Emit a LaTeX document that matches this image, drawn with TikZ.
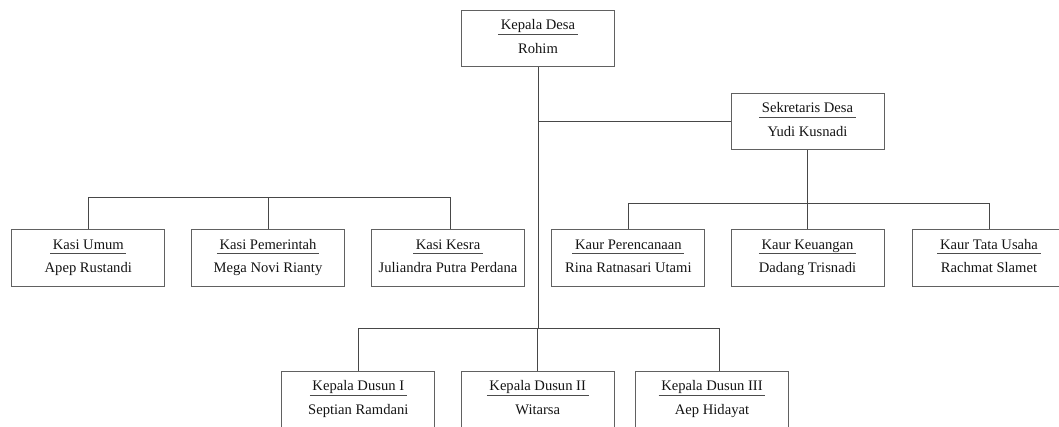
\documentclass[tikz,border=0pt]{standalone}
\usepackage{fontspec}
\setmainfont{Liberation Serif}
\usetikzlibrary{calc}
\tikzset{
  orgbox/.style={draw=black!62, line width=0.9pt, rectangle, minimum width=153pt, minimum height=56.5pt, inner sep=0pt},
  ttl/.style={anchor=base, inner xsep=2.5pt, inner ysep=0pt, font=\fontsize{14.6}{17}\selectfont, text=black!92},
  per/.style={anchor=base, inner sep=0pt, font=\fontsize{14.6}{17}\selectfont, text=black!92},
  uline/.style={draw=black!70, line width=0.9pt},
  conn/.style={draw=black!72, line width=0.9pt}
}
\newcommand{\orgunit}[5]{%
  \node[orgbox] (#1) at (#2,#3) {};
  \node[ttl] (#1-t) at ($(#1.north)+(0,-19.8pt)$) {#4};
  \draw[uline] ([yshift=-4.5pt]#1-t.base west) -- ([yshift=-4.5pt]#1-t.base east);
  \node[per] (#1-p) at ($(#1.north)+(0,-43.5pt)$) {#5};
}
\begin{document}
\begin{tikzpicture}[x=1pt,y=-1pt]
\useasboundingbox (0,0) rectangle (1059,426);
% boxes
\orgunit{kd}{538}{38.5}{Kepala Desa}{Rohim}
\orgunit{sd}{807.5}{121.5}{Sekretaris Desa}{Yudi Kusnadi}
\orgunit{ku}{88.3}{258}{Kasi Umum}{Apep Rustandi}
\orgunit{kp}{268}{258}{Kasi Pemerintah}{Mega Novi Rianty}
\orgunit{kk}{448}{258}{Kasi Kesra}{Juliandra Putra Perdana}
\orgunit{kr}{628.3}{258}{Kaur Perencanaan}{Rina Ratnasari Utami}
\orgunit{kg}{807.5}{258}{Kaur Keuangan}{Dadang Trisnadi}
\orgunit{kt}{989}{258}{Kaur Tata Usaha}{Rachmat Slamet}
\orgunit{d1}{358.3}{399.5}{Kepala Dusun I}{Septian Ramdani}
\orgunit{d2}{537.7}{399.5}{Kepala Dusun II}{Witarsa}
\orgunit{d3}{712}{399.5}{Kepala Dusun III}{Aep Hidayat}
% bar levels
\coordinate (barL) at (0,197);
\coordinate (barR) at (0,203.3);
\coordinate (barB) at (0,328.3);
\coordinate (kkc) at ([xshift=2pt]kk.north);
\coordinate (d3c) at ([xshift=7pt]d3.north);
% connectors
\draw[conn] (kd.south) -- (kd.south |- barB);
\draw[conn] (kd.south |- sd.west) -- (sd.west);
\draw[conn] (ku.north) -- (ku.north |- barL) -- (kkc |- barL) -- (kkc);
\draw[conn] (kp.north) -- (kp.north |- barL);
\draw[conn] (sd.south) -- (kg.north);
\draw[conn] (kr.north) -- (kr.north |- barR) -- (kt.north |- barR) -- (kt.north);
\draw[conn] (d1.north) -- (d1.north |- barB) -- (d3c |- barB) -- (d3c);
\draw[conn] (d2.north) -- (d2.north |- barB);
\end{tikzpicture}
\end{document}
